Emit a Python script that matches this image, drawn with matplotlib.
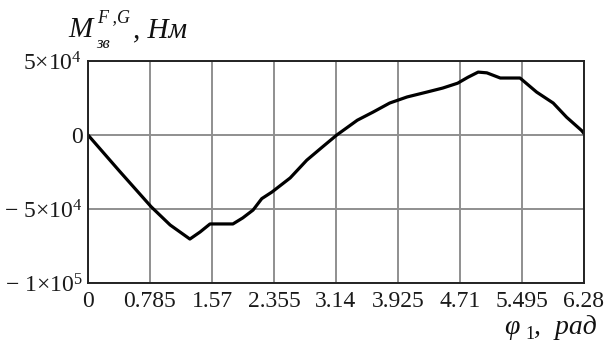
import matplotlib
matplotlib.use("Agg")
import matplotlib.pyplot as plt

plt.rcParams["font.family"] = ["Liberation Serif", "DejaVu Serif"]
plt.rcParams["mathtext.fontset"] = "custom"
plt.rcParams["mathtext.rm"] = "Liberation Serif"
plt.rcParams["mathtext.it"] = "Liberation Serif:italic"

# crank angle, rad
phi = [0, 0.4, 0.8, 1.04, 1.29, 1.42, 1.545, 1.835, 1.96, 2.09, 2.2, 2.33,
       2.56, 2.77, 2.97, 3.15, 3.41, 3.61, 3.82, 4.04, 4.29, 4.49, 4.68,
       4.81, 4.94, 5.05, 5.22, 5.47, 5.68, 5.89, 6.06, 6.25, 6.28]
# reduced moment of external and gravity forces, N*m
moment = [0, -24500, -48500, -60800, -70300, -65500, -60100, -60100, -56000,
          -50700, -43000, -38500, -29000, -17000, -8000, 0, 10000, 15500,
          21600, 25700, 29000, 31700, 35000, 39000, 42500, 42000, 38500,
          38500, 29000, 21600, 12000, 3000, 1000]

x_ticks = [0, 0.785, 1.57, 2.355, 3.14, 3.925, 4.71, 5.495, 6.28]
x_labels = ["0", "0.785", "1.57", "2.355", "3.14", "3.925", "4.71", "5.495", "6.28"]
y_ticks = [5e4, 0, -5e4, -1e5]
y_labels = [r"$5{\times}10^{4}$", "0",
            "\u2212 " + r"$5{\times}10^{4}$", "\u2212 " + r"$1{\times}10^{5}$"]

W, H = 606, 349
fig = plt.figure(figsize=(W / 100, H / 100), dpi=100)
ax = fig.add_axes([88 / W, 1 - 283 / H, 496 / W, 222 / H])

ax.plot(phi, moment, color="black", lw=2.3, solid_joinstyle="round", zorder=3)

ax.set_xlim(0, 6.28)
ax.set_ylim(-1e5, 5e4)
ax.set_xticks(x_ticks)
ax.set_xticklabels(x_labels)
ax.set_yticks(y_ticks)
ax.set_yticklabels(y_labels)
ax.tick_params(length=0, labelsize=17, colors="#1a1a1a", pad=6)
ax.tick_params(axis="y", pad=4)
ax.grid(True, color="#8f8f8f", lw=1.4)
for s in ax.spines.values():
    s.set_color("#222222")
    s.set_linewidth(1.4)
    s.set_zorder(4)


def ftext(px, py, s, size, style="italic"):
    fig.text(px / W, 1 - py / H, s, fontsize=size, style=style,
             ha="left", va="baseline", color="#111111")


# y-axis caption
ftext(68, 37, "M", 21)
ftext(97, 22, "F ,G", 13)
ftext(96, 48, "зв", 12)
ftext(133, 37, ", Нм", 21)

# x-axis caption
ftext(504, 334, "φ", 20)
ftext(525, 339, "1", 13, style="normal")
ftext(534, 334, ",  рад", 20)

fig.savefig("out.png", dpi=100)
